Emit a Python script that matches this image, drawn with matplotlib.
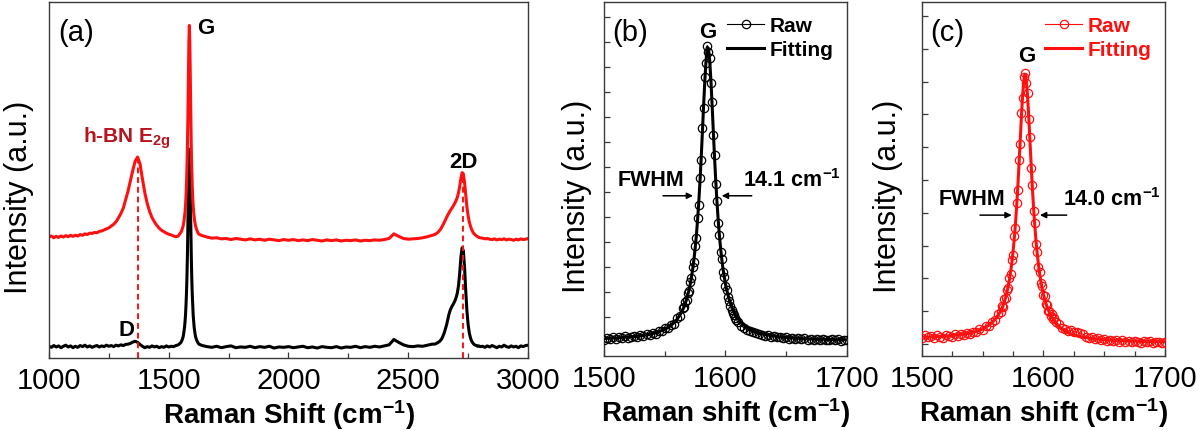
import numpy as np
import matplotlib
matplotlib.use("Agg")
import matplotlib.pyplot as plt
from matplotlib.lines import Line2D
from matplotlib.ticker import MultipleLocator

plt.rcParams['font.family'] = ['Liberation Sans', 'DejaVu Sans']
plt.rcParams['mathtext.fontset'] = 'custom'
plt.rcParams['mathtext.rm'] = 'Liberation Sans'
plt.rcParams['mathtext.bf'] = 'Liberation Sans:bold'
plt.rcParams['mathtext.it'] = 'Liberation Sans:italic'

# ---------------- panel (a) data ----------------
a_shift = np.concatenate([np.arange(1000, 1541, 10), np.arange(1550, 1627, 2),
                          np.arange(1640, 2601, 20), np.arange(2610, 2801, 5),
                          np.arange(2810, 3001, 10)])
a_black = [
    3.3, 3.0, 3.5, 3.1, 3.4, 2.9, 3.3, 3.6, 3.1, 3.4,
    2.9, 3.3, 3.0, 3.5, 3.2, 3.6, 3.1, 3.4, 3.0, 3.3,
    3.5, 3.1, 3.4, 3.2, 3.6, 3.3, 3.5, 3.2, 3.6, 3.4,
    3.7, 3.5, 3.8, 3.9, 4.1, 4.5, 4.7, 4.4, 3.8, 3.3,
    2.9, 3.2, 3.0, 3.4, 3.1, 3.3, 2.9, 3.2, 3.0, 3.4,
    3.1, 3.3, 3.2, 3.5, 3.7,
    4.3, 4.5, 4.8, 5.1, 5.5, 6.0, 6.7, 7.6, 8.7, 10.2,
    12.1, 14.8, 18.2, 22.8, 29.0, 37.0, 46.4, 55.0, 58.7, 55.0,
    46.4, 37.0, 29.0, 22.8, 18.2, 14.8, 12.1, 10.2, 8.7, 7.6,
    6.7, 6.0, 5.5, 5.1, 4.8, 4.5, 4.3, 4.1, 3.9,
    3.5, 3.2, 3.0, 3.3, 2.9, 3.2, 3.4, 2.9, 3.1, 3.0,
    3.3, 2.9, 3.2, 3.0, 3.3, 2.8, 3.1, 3.0, 3.2, 2.9,
    3.1, 3.3, 2.9, 3.1, 2.8, 3.2, 3.0, 2.9, 3.2, 2.8,
    3.1, 3.0, 3.3, 2.9, 3.2, 3.0, 3.3, 3.1, 3.4, 3.7,
    5.2, 4.4, 3.7, 3.3, 3.2, 3.4, 3.3, 3.6, 3.9,
    3.9, 4.0, 4.2, 4.4, 4.6, 5.0, 5.4, 6.2, 7.0, 8.1,
    9.3, 10.8, 12.3, 13.4, 14.2, 14.8, 15.4, 16.1, 17.0, 18.3,
    20.4, 24.0, 28.5, 31.0, 30.2, 25.5, 19.0, 13.2, 9.4, 7.0,
    5.6, 4.7, 4.2, 3.8, 3.6, 3.5, 3.3, 3.4, 3.2,
    3.3, 3.0, 3.4, 3.1, 3.5, 3.2, 2.9, 3.3, 3.1, 3.6,
    3.2, 3.0, 3.4, 3.1, 3.3, 2.9, 3.4, 3.2, 3.5, 3.6,
]
a_red = [
    34.0, 34.3, 33.8, 34.2, 33.9, 34.3, 34.0, 34.4, 34.1, 34.5,
    34.2, 34.5, 34.3, 34.7, 34.5, 34.9, 34.7, 35.1, 35.0, 35.3,
    35.2, 35.6, 35.7, 36.0, 36.3, 36.6, 37.1, 37.6, 38.3, 39.4,
    40.6, 42.1, 44.5, 46.9, 49.8, 52.8, 55.4, 56.5, 54.6, 50.4,
    46.5, 43.5, 41.2, 39.5, 38.3, 37.3, 36.5, 35.9, 35.5, 35.1,
    34.8, 34.6, 34.3, 34.1, 34.3,
    35.3, 35.5, 35.8, 36.2, 36.6, 37.1, 37.8, 38.6, 39.7, 41.0,
    42.8, 45.3, 48.7, 53.4, 59.6, 68.1, 78.6, 88.8, 93.5, 88.8,
    78.6, 68.1, 59.6, 53.4, 48.7, 45.3, 42.8, 41.0, 39.7, 38.6,
    37.8, 37.1, 36.6, 36.2, 35.8, 35.5, 35.2, 35.0, 34.8,
    34.4, 34.0, 33.7, 33.8, 33.5, 33.6, 33.3, 33.6, 33.4, 33.2,
    33.5, 33.2, 33.4, 33.1, 33.4, 33.2, 33.0, 33.3, 33.1, 33.3,
    33.0, 33.2, 33.0, 33.3, 33.1, 32.9, 33.2, 33.0, 33.2, 32.9,
    33.1, 33.0, 33.2, 32.9, 33.1, 33.0, 33.2, 33.1, 33.3, 33.6,
    34.9, 34.2, 33.6, 33.4, 33.5, 33.6, 33.8, 34.1, 34.5,
    34.7, 34.9, 35.1, 35.4, 35.8, 36.2, 36.8, 37.4, 38.1, 38.8,
    39.5, 40.2, 40.8, 41.4, 41.9, 42.4, 43.0, 43.6, 44.3, 45.2,
    46.5, 48.3, 50.6, 52.1, 51.8, 49.4, 45.8, 42.4, 40.0, 38.2,
    37.0, 36.1, 35.4, 34.9, 34.6, 34.3, 34.1, 33.9, 33.8,
    33.7, 33.5, 33.6, 33.4, 33.3, 33.5, 33.2, 33.4, 33.3, 33.5,
    33.2, 33.4, 33.3, 33.1, 33.4, 33.2, 33.5, 33.3, 33.4, 33.6,
]
hbn_pos, hbn_top = 1370, 56.5
twod_pos, twod_top = 2727, 52.2

# ---------------- panels (b) and (c) data ----------------
bc_shift = np.concatenate([np.arange(1500, 1563, 2.5), np.arange(1565, 1611, 1.0),
                           np.arange(1612.5, 1700.1, 2.5)])
b_raw = [
    0.10, 0.18, 0.13, 0.21, 0.12, 0.20, 0.16, 0.24, 0.17, 0.22, 0.26, 0.19, 0.28,
    0.24, 0.33, 0.27, 0.38, 0.34, 0.45, 0.43, 0.55, 0.56, 0.70, 0.74, 0.95, 1.05,
    1.36, 1.40, 1.62, 1.68, 1.95, 2.05, 2.40, 2.55, 3.00, 3.22, 3.85, 4.18, 4.98,
    5.50, 6.55, 7.28, 8.55, 9.35, 10.60, 11.15, 11.85, 11.62, 11.35, 10.38, 9.60,
    8.30, 7.48, 6.32, 5.66, 4.78, 4.30, 3.62, 3.33, 2.82, 2.62, 2.25, 2.10, 1.80,
    1.66, 1.45, 1.30, 1.18, 1.08, 0.98, 0.90, 0.80,
    0.66, 0.58, 0.50, 0.44, 0.40, 0.36, 0.31, 0.30, 0.26, 0.27, 0.22, 0.25, 0.19,
    0.21, 0.16, 0.19, 0.14, 0.17, 0.12, 0.16, 0.11, 0.15, 0.10, 0.14, 0.09, 0.13,
    0.08, 0.12, 0.10, 0.07, 0.12, 0.08, 0.11, 0.06, 0.10, 0.09,
]
b_fit = [
    0.14, 0.15, 0.15, 0.16, 0.16, 0.17, 0.18, 0.19, 0.20, 0.21, 0.22, 0.23, 0.25,
    0.27, 0.29, 0.31, 0.34, 0.37, 0.41, 0.46, 0.51, 0.58, 0.66, 0.77, 0.90, 1.08,
    1.31, 1.43, 1.56, 1.71, 1.89, 2.09, 2.32, 2.60, 2.91, 3.29, 3.73, 4.25, 4.87,
    5.59, 6.43, 7.37, 8.41, 9.47, 10.47, 11.26, 11.80, 11.74, 11.26, 10.47, 9.47,
    8.41, 7.37, 6.43, 5.59, 4.87, 4.25, 3.73, 3.29, 2.91, 2.60, 2.32, 2.09, 1.89,
    1.71, 1.56, 1.43, 1.31, 1.21, 1.12, 1.04, 0.97,
    0.80, 0.68, 0.59, 0.52, 0.46, 0.41, 0.37, 0.33, 0.30, 0.28, 0.25, 0.24, 0.22,
    0.20, 0.19, 0.18, 0.17, 0.16, 0.15, 0.15, 0.14, 0.13, 0.13, 0.12, 0.12, 0.11,
    0.11, 0.11, 0.10, 0.10, 0.10, 0.09, 0.09, 0.09, 0.09, 0.09,
]
c_raw = [
    0.18, 0.26, 0.20, 0.24, 0.17, 0.27, 0.22, 0.19, 0.28, 0.23, 0.21, 0.30, 0.25,
    0.31, 0.27, 0.35, 0.30, 0.38, 0.36, 0.45, 0.43, 0.55, 0.56, 0.68, 0.72, 0.90,
    0.98, 1.15, 1.14, 1.36, 1.40, 1.65, 1.70, 2.02, 2.12, 2.55, 2.70, 3.30, 3.55,
    4.30, 4.70, 5.60, 6.10, 7.05, 7.50, 8.15, 8.25, 7.95, 7.65, 6.85, 6.30, 5.38,
    4.85, 4.05, 3.68, 3.05, 2.82, 2.35, 2.20, 1.85, 1.78, 1.50, 1.45, 1.22, 1.20,
    1.00, 1.02, 0.85, 0.90, 0.75, 0.80, 0.68,
    0.60, 0.50, 0.47, 0.40, 0.42, 0.37, 0.38, 0.33, 0.30, 0.22, 0.17, 0.20, 0.14,
    0.17, 0.11, 0.15, 0.09, 0.13, 0.08, 0.12, 0.07, 0.11, 0.06, 0.10, 0.05, 0.09,
    0.07, 0.04, 0.09, 0.05, 0.08, 0.04, 0.07, 0.06, 0.03, 0.07,
]
c_fit = [
    0.21, 0.21, 0.21, 0.22, 0.22, 0.23, 0.23, 0.24, 0.24, 0.25, 0.26, 0.27, 0.28,
    0.29, 0.31, 0.32, 0.34, 0.36, 0.39, 0.42, 0.46, 0.51, 0.57, 0.64, 0.74, 0.86,
    1.00, 1.09, 1.18, 1.29, 1.42, 1.57, 1.74, 1.94, 2.18, 2.45, 2.78, 3.17, 3.63,
    4.17, 4.79, 5.48, 6.22, 6.96, 7.61, 8.06, 8.22, 8.03, 7.58, 6.93, 6.19, 5.45,
    4.75, 4.13, 3.59, 3.13, 2.74, 2.42, 2.14, 1.90, 1.70, 1.53, 1.38, 1.25, 1.14,
    1.05, 0.96, 0.89, 0.83, 0.77, 0.72, 0.67,
    0.53, 0.46, 0.40, 0.35, 0.31, 0.28, 0.25, 0.23, 0.21, 0.20, 0.18, 0.17, 0.16,
    0.15, 0.14, 0.13, 0.13, 0.12, 0.12, 0.11, 0.11, 0.10, 0.10, 0.10, 0.09, 0.09,
    0.09, 0.08, 0.08, 0.08, 0.08, 0.08, 0.08, 0.07, 0.07, 0.07,
]
fwhm_b = "14.1"
fwhm_c = "14.0"

RED = '#ff1010'
DARKRED = '#b8141e'
SPINE = '#3a3a3a'
SUP = '$^{\\mathbf{-1}}$'

fig = plt.figure(figsize=(12, 4.31), dpi=100)
ax_a = fig.add_axes([0.04083, 0.16705, 0.39917, 0.82529])
ax_b = fig.add_axes([0.50333, 0.17169, 0.2025, 0.82065])
ax_c = fig.add_axes([0.76808, 0.17169, 0.20275, 0.82065])

for ax in (ax_a, ax_b, ax_c):
    for s in ax.spines.values():
        s.set_color(SPINE)
        s.set_linewidth(1.0)
    ax.tick_params(which='both', direction='in', labelsize=21, pad=6, color=SPINE,
                   top=False, right=False)
    ax.tick_params(which='major', length=4.5, width=0.9)
    ax.tick_params(which='minor', length=3.5, width=0.9)
    ax.tick_params(axis='y', labelleft=False)

# ---- (a) ----
ax_a.plot(a_shift, a_black, color='black', lw=2.2)
ax_a.plot(a_shift, a_red, color=RED, lw=2.2)
ax_a.plot([hbn_pos, hbn_pos], [0, hbn_top], color=RED, lw=1.4, ls=(0, (3, 2)))
ax_a.plot([twod_pos, twod_pos], [0, twod_top], color=RED, lw=1.4, ls=(0, (3, 2)))
ax_a.set_xlim(1000, 3000)
ax_a.set_ylim(0, 100)
ax_a.set_xticks([1000, 1500, 2000, 2500, 3000])
ax_a.xaxis.set_minor_locator(MultipleLocator(250))
ax_a.tick_params(axis='y', left=False)
ax_a.set_xlabel('Raman Shift (cm' + SUP + ')', fontsize=20, fontweight='bold', labelpad=2)
ax_a.set_ylabel('Intensity (a.u.)', fontsize=22)
ax_a.yaxis.set_label_coords(-0.031, 0.455)
ax_a.text(0.019, 0.917, '(a)', transform=ax_a.transAxes, fontsize=21, ha='left', va='center')
ax_a.text(1618, 92.8, 'G', fontsize=16, fontweight='bold', ha='left', va='center')
ax_a.text(2729, 55.3, '2D', fontsize=16, fontweight='bold', ha='center', va='center')
ax_a.text(1322, 7.9, 'D', fontsize=16, fontweight='bold', ha='center', va='center')
ax_a.text(1140, 62.2, 'h-BN E$_{\\mathbf{2g}}$', fontsize=15, fontweight='bold',
          color=DARKRED, ha='left', va='center')


def small_panel(ax, raw, fit, color, ylim, nticks, minor, label, g_xy, fwhm_txt,
                fwhm_y, arrow_y, arr_l, arr_r, txt_x, leg_color):
    ax.plot(bc_shift, fit, color=color, lw=2.2, zorder=2)
    ax.plot(bc_shift, raw, color=color, lw=0.8, marker='o', ms=6, mfc='none',
            mew=0.9, zorder=3)
    ax.set_xlim(1500, 1700)
    ax.set_ylim(*ylim)
    ax.set_xticks([1500, 1600, 1700])
    ax.xaxis.set_minor_locator(MultipleLocator(minor))
    ax.set_yticks(range(0, nticks))
    ax.set_xlabel('Raman shift (cm' + SUP + ')', fontsize=20, fontweight='bold', labelpad=2)
    ax.set_ylabel('Intensity (a.u.)', fontsize=22)
    ax.text(0.035, 0.917, label, transform=ax.transAxes, fontsize=21, ha='left', va='center')
    ax.text(g_xy[0], g_xy[1], 'G', fontsize=16, fontweight='bold', ha='center', va='center')
    ax.text(txt_x[0], fwhm_y, 'FWHM', fontsize=15.5, fontweight='bold', ha='left', va='center')
    ax.text(txt_x[1], fwhm_y, fwhm_txt + ' cm' + SUP, fontsize=15.5,
            fontweight='bold', ha='left', va='center')
    for tail, tip in (arr_l, arr_r):
        ax.annotate('', xy=(tip, arrow_y), xytext=(tail, arrow_y),
                    arrowprops=dict(arrowstyle='-|>', color='black', lw=1.1,
                                    mutation_scale=9, shrinkA=0, shrinkB=0))
    handles = [Line2D([], [], color=color, lw=0.8, marker='o', ms=6, mfc='none', mew=0.9),
               Line2D([], [], color=color, lw=2.2)]
    ax.legend(handles, ['Raw', 'Fitting'], loc='upper right', bbox_to_anchor=(1.0, 1.0),
              frameon=False, handlelength=1.8, handletextpad=0.25, labelspacing=0.25,
              borderaxespad=0.25, numpoints=1, labelcolor=leg_color,
              prop={'weight': 'bold', 'size': 15})


small_panel(ax_b, b_raw, b_fit, 'black', (-0.56, 13.59), 14, 50, '(b)', (1585.8, 12.42),
            fwhm_b, 6.5, 5.85, (1548.6, 1573.3), (1621.6, 1596.9), (1511.5, 1614.4), 'black')
ax_b.yaxis.set_label_coords(-0.049, 0.455)

small_panel(ax_c, c_raw, c_fit, RED, (-0.366, 10.42), 11, 25, '(c)', (1586.3, 8.79),
            fwhm_c, 4.45, 3.93, (1547.9, 1574.0), (1619.2, 1597.2), (1513.6, 1616.4), RED)
ax_c.yaxis.set_label_coords(-0.077, 0.455)

fig.savefig('out.png', dpi=100)
